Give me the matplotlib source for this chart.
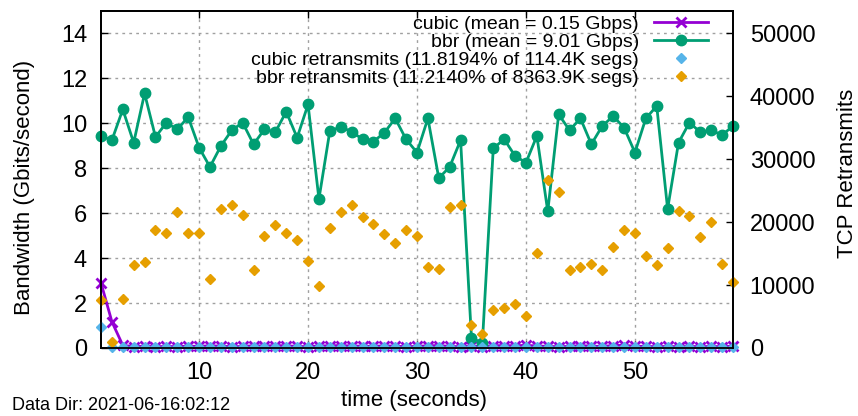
import numpy as np
import matplotlib
matplotlib.use('Agg')
import matplotlib.pyplot as plt

plt.rcParams['font.family'] = ['Liberation Sans', 'DejaVu Sans']

# per-second iperf samples
seconds = list(range(1, 60))

bbr_gbps = [9.44, 9.25, 10.62, 9.14, 11.33, 9.39, 10.03, 9.73, 10.28, 8.92,
            8.06, 8.99, 9.69, 10.03, 9.07, 9.73, 9.61, 10.52, 9.36, 10.84,
            6.63, 9.66, 9.84, 9.63, 9.29, 9.19, 9.58, 10.22, 9.29, 8.70,
            10.22, 7.56, 8.06, 9.25, 0.43, 0.24, 8.89, 9.29, 8.55, 8.25,
            9.44, 6.08, 10.40, 9.69, 10.22, 9.07, 9.88, 10.32, 9.81, 8.70,
            10.22, 10.77, 6.19, 9.14, 10.03, 9.61, 9.69, 9.48, 9.88]

cubic_gbps = [2.90, 1.17, 0.12, 0.06, 0.08, 0.06, 0.07, 0.06, 0.08, 0.07,
              0.10, 0.08, 0.06, 0.07, 0.10, 0.09, 0.11, 0.10, 0.07, 0.06,
              0.09, 0.10, 0.11, 0.09, 0.08, 0.07, 0.10, 0.08, 0.06, 0.07,
              0.10, 0.11, 0.07, 0.06, 0.08, 0.06, 0.10, 0.11, 0.10, 0.12,
              0.09, 0.07, 0.06, 0.07, 0.11, 0.08, 0.07, 0.11, 0.12, 0.08,
              0.07, 0.06, 0.07, 0.06, 0.07, 0.06, 0.07, 0.06, 0.08]

bbr_retrans = [7700, 1000, 7860, 13130, 13660, 18780, 18300, 21570, 18300, 18300,
               11020, 22100, 22780, 21200, 12450, 17880, 19570, 18300, 17090, 13820,
               9810, 19100, 21570, 22780, 20780, 19730, 18150, 16720, 18830, 17880,
               12860, 12610, 22360, 22780, 3640, 2210, 6010, 6430, 6960, 5060,
               15080, 26690, 24730, 12450, 12860, 13400, 12450, 16030, 18830, 18300,
               14560, 13130, 15930, 21720, 20930, 17610, 19980, 13400, 10490]

cubic_retrans = [3400, 150, 180, 160, 200, 170, 150, 190, 210, 160,
                 180, 170, 150, 200, 160, 180, 190, 170, 150, 160,
                 200, 180, 170, 160, 150, 190, 180, 170, 160, 200,
                 150, 180, 170, 190, 160, 150, 180, 170, 160, 190,
                 200, 170, 160, 150, 180, 190, 170, 160, 180, 150,
                 170, 190, 160, 180, 170, 150, 160, 180, 170]

cubic_label = 'cubic (mean = 0.15 Gbps)'
bbr_label = 'bbr (mean = 9.01 Gbps)'
cubic_rt_label = 'cubic retransmits (11.8194% of 114.4K segs)'
bbr_rt_label = 'bbr retransmits (11.2140% of 8363.9K segs)'

fig = plt.figure(figsize=(8.58, 4.16), dpi=100)
ax = fig.add_axes([101/858, 1-348/416, (733-101)/858, (348-11)/416])
ax2 = ax.twinx()

l1, = ax.plot(seconds, cubic_gbps, color='#9400d3', lw=2, marker='x',
              ms=7, mew=2, label=cubic_label, clip_on=False)
l2, = ax.plot(seconds, bbr_gbps, color='#009e73', lw=2, marker='o',
              ms=7.5, label=bbr_label, clip_on=False)
l3, = ax2.plot(seconds, cubic_retrans, ls='none', marker='D', ms=5,
               color='#56b4e9', label=cubic_rt_label, clip_on=False)
l4, = ax2.plot(seconds, bbr_retrans, ls='none', marker='D', ms=5,
               color='#e69f00', label=bbr_rt_label, clip_on=False)

ax.set_xlim(1, 59)
ax.set_ylim(0, 15)
ax2.set_ylim(0, 50000 * 15 / 14)
ax.set_xticks([10, 20, 30, 40, 50])
ax.set_yticks(range(0, 15, 2))
ax2.set_yticks(range(0, 50001, 10000))

ax.grid(True, color='#a0a0a0', ls=(0, (2, 3)), lw=1)
ax.tick_params(axis='both', direction='in', length=5, width=1, labelsize=17, pad=10)
ax.tick_params(axis='x', top=True)
ax2.tick_params(axis='y', direction='in', length=5, width=1, labelsize=17, pad=12)
for a in (ax, ax2):
    for sp in a.spines.values():
        sp.set_linewidth(1.3)

ax.set_xlabel('time (seconds)', fontsize=16)
ax.set_ylabel('Bandwidth (Gbits/second)', fontsize=16)
ax2.set_ylabel('TCP Retransmits', fontsize=16)
ax.xaxis.set_label_coords((414 - 101) / 632, -(390 - 348) / 337)
ax.yaxis.set_label_coords(-(101 - 35) / 632, (348 - 187) / 337)
ax2.yaxis.set_label_coords(1 + (837 - 733) / 632, (348 - 173) / 337)

ax2.legend(handles=[l1, l2, l3, l4], loc='upper right',
           bbox_to_anchor=(708/858, 1 - 15/416), bbox_transform=fig.transFigure,
           frameon=False, markerfirst=False, fontsize=14, borderpad=0,
           borderaxespad=0, handlelength=2.8, handletextpad=0.75,
           labelspacing=0.03)

fig.text(12/858, 1 - 405/416, 'Data Dir: 2021-06-16:02:12', fontsize=13,
         va='center', ha='left')

fig.savefig('out.png', dpi=100)
